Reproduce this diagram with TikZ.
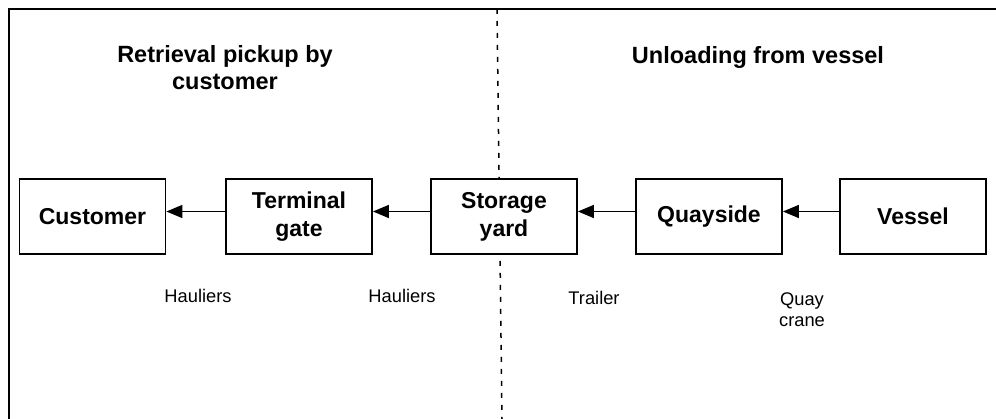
\documentclass[tikz,border=0pt]{standalone}
\usepackage{fontspec}
\setmainfont{Liberation Sans}
\usetikzlibrary{arrows.meta}
\begin{document}
\begin{tikzpicture}[x=1pt,y=-1pt]
	\tikzstyle{stage}=[draw=black,fill=white,line width=1.8pt,minimum width=146pt,minimum height=75pt,inner sep=0pt,align=center,font=\fontsize{23}{28}\selectfont\bfseries]
	\tikzstyle{title}=[align=center,font=\fontsize{23.5}{27}\selectfont\bfseries]
	\tikzstyle{means}=[align=center,font=\fontsize{18.3}{21}\selectfont]
	\tikzstyle{flow}=[draw=black,line width=1.5pt,-{Triangle[length=16pt,width=13pt]}]
	\useasboundingbox (0,0) rectangle (996,419);

	% frame and divider
	\draw[line width=1.8pt] (9,419) -- (9,9) -- (996,9);
	\draw[line width=1.5pt,dash pattern=on 5pt off 7pt] (497,9) -- (502,419);

	\node [title] (left) at (225,68) {Retrieval pickup by\\customer};
	\node [title] (right) at (758,57) {Unloading from vessel};

	\node [stage] (cust) at (92.5,216.5) {Customer};
	\node [stage] (gate) at (299,216.5) {Terminal\\gate};
	\node [stage] (yard) at (504,216.5) {Storage\\yard};
	\node [stage] (quay) at (709,216.5) {Quayside};
	\node [stage] (vessel) at (913,216.5) {Vessel};

	\path[flow] ([yshift=5pt]gate.west) -- ([yshift=5pt]cust.east);
	\path[flow] ([yshift=5pt]yard.west) -- ([yshift=5pt]gate.east);
	\path[flow] ([yshift=5pt]quay.west) -- ([yshift=5pt]yard.east);
	\path[flow] ([yshift=5pt]vessel.west) -- ([yshift=5pt]quay.east);

	\node [means] (h1) at (198,296) {Hauliers};
	\node [means] (h2) at (402,296) {Hauliers};
	\node [means] (trailer) at (594,298) {Trailer};
	\node [means] (crane) at (802,310) {Quay\\crane};
\end{tikzpicture}
\end{document}
